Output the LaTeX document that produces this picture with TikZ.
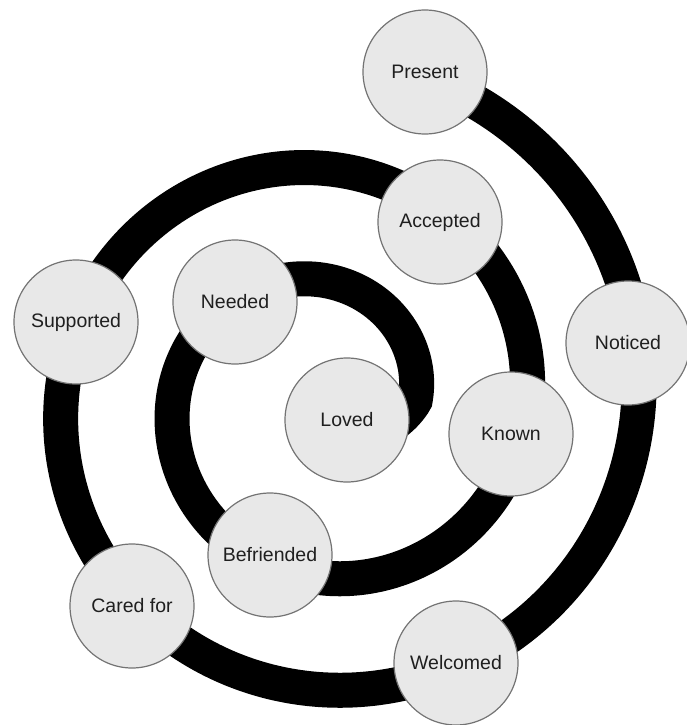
\documentclass[tikz,border=0pt]{standalone}
\usepackage{fontspec}
\setmainfont{Liberation Sans}
\begin{document}
\begin{tikzpicture}[x=1pt,y=-1pt,
  stage/.style={circle, draw=black!55, line width=1.2pt, fill=black!9,
    minimum size=124pt, inner sep=0pt, text=black!88,
    font=\fontsize{19.5}{22}\selectfont},
  band/.style={line width=35pt, draw=black}]
\useasboundingbox (0,0) rectangle (686,725);
% spiral band
\draw[band] plot[domain=-0.5:13.92, samples=400, smooth, variable=\t]
  ({322+(93+17.8*\t+40*min(\t,0))*cos(\t r)}, {401-(93+17.8*\t+40*min(\t,0))*sin(\t r)});
% stages
\node[stage] (loved)      at (347,420) {Loved};
\node[stage] (needed)     at (235,302) {Needed};
\node[stage] (befriended) at (270,555) {Befriended};
\node[stage] (known)      at (511,434) {Known};
\node[stage] (accepted)   at (440,222) {Accepted};
\node[stage] (supported)  at (76,322)  {Supported};
\node[stage] (caredfor)   at (132,606) {Cared for};
\node[stage] (welcomed)   at (456,663) {Welcomed};
\node[stage] (noticed)    at (628,343) {Noticed};
\node[stage] (present)    at (425,72)  {Present};
\end{tikzpicture}
\end{document}
